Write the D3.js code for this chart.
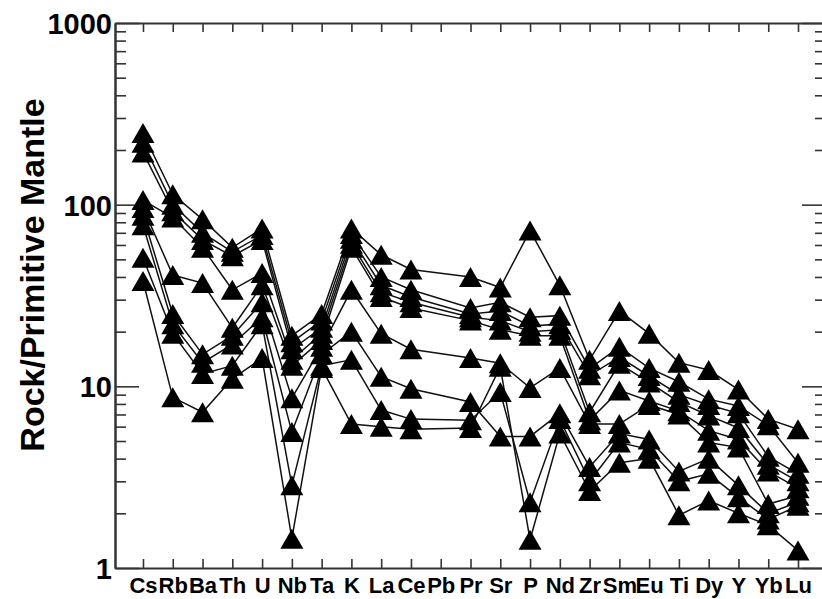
<!DOCTYPE html>
<html>
<head>
<meta charset="utf-8">
<script src="https://cdnjs.cloudflare.com/ajax/libs/d3/7.8.5/d3.min.js"></script>
<style>
  body { margin: 0; background: #fff; }
  svg { display: block; }
</style>
</head>
<body>
<div id="plot"></div>
<script>
// element order of the spider diagram (Pb has no analyses)
var elements = ["Cs","Rb","Ba","Th","U","Nb","Ta","K","La","Ce","Pb","Pr","Sr","P","Nd","Zr","Sm","Eu","Ti","Dy","Y","Yb","Lu"];
var yTicks = [1, 10, 100, 1000];

// rock / primitive mantle values
var sample1 = [248, 114, 83, 58, 74, 19, 25, 74, 53, 44, null, 40, 35, 72, 36, 14, 26, 19.5, 13.5, 12.3, 9.6, 6.6, 5.8];
var sample2 = [219, 100, 70, 55, 68, 17.5, 23, 69, 40, 34, null, 27, 29, 24, 24.5, 12.5, 16.5, 12.6, 10.6, 8.5, 7.8, 6.1, 3.8];
var sample3 = [194, 92, 64, 52, 64, 16, 21, 65, 36, 31, null, 25, 26, 21.5, 22, 11.5, 14.5, 11.4, 9.0, 7.9, 7.1, 4.1, 3.3];
var sample4 = [106, 85, 58, 34, 42, 14, 19.5, 61, 33, 29, null, 24, 23, 20, 20.5, 7.2, 13.3, 10.5, 8.2, 6.9, 5.9, 3.7, 3.0];
var sample5 = [96, 41, 37, 21, 36, 13, 18, 58, 31, 27, null, 23, 20.5, 19, 19, 6.5, 9.5, 8.3, 7.3, 5.7, 5.1, 3.4, 2.75];
var sample6 = [87, 25, 15, 19, 29, 8.6, 16.5, 34, 19.5, 16, null, 14.3, 13.4, 9.8, 12.6, 6.2, 6.2, 7.9, 7.0, 4.9, 4.6, 2.25, 2.5];
var sample7 = [77, 22, 13.5, 17, 24, 5.6, 15, 20, 11.3, 9.7, null, 8.2, 5.3, 5.3, 7.1, 3.6, 5.5, 5.1, 3.4, 4.0, 2.85, 2.0, 2.3];
var sample8 = [51, 19.5, 11.7, 13, 22, 2.85, 13, 14, 7.4, 6.6, null, 6.5, 9.3, 2.3, 6.6, 3.0, 4.9, 4.5, 3.0, 3.3, 2.45, 1.85, 2.2];
var sample9 = [38, 8.7, 7.2, 11, 14.3, 1.45, 12.6, 6.2, 6.0, 5.8, null, 5.9, 12.8, 1.43, 5.5, 2.65, 3.8, 4.0, 1.95, 2.35, 2.0, 1.72, 1.25];
var samples = [sample1, sample2, sample3, sample4, sample5, sample6, sample7, sample8, sample9];

var width = 822, height = 599;
// right frame line sits just past the page edge, as in the scan
var plot = {left: 115, right: 826, top: 23, bottom: 568};

var svg = d3.select("#plot")
  .append("svg")
    .attr("width", width)
    .attr("height", height)
    .style("font-family", "'Liberation Sans', Arial, Helvetica, sans-serif")
    .style("font-weight", "bold");

var x = d3.scalePoint()
    .domain(elements)
    .range([plot.left, plot.right])
    .padding(0.94);

var y = d3.scaleLog()
    .domain([1, 1000])
    .range([plot.bottom, plot.top]);

var minorTicks = [];
[1, 10, 100].forEach(function(dec) {
  for (var k = 2; k <= 9; k++) minorTicks.push(k * dec);
});

var axisColor = "#333";

function styleAxis(g) {
  g.attr("color", axisColor);
  g.select(".domain").attr("stroke-width", 2);
  g.selectAll(".tick line").attr("stroke-width", 1.6);
}

// left axis: minor then major ticks pointing inward
svg.append("g")
    .attr("transform", "translate(" + plot.left + ",0)")
    .call(d3.axisLeft(y).tickValues(minorTicks).tickSize(-11).tickSizeOuter(0).tickFormat(""))
    .call(styleAxis);

var leftMajor = svg.append("g")
    .attr("transform", "translate(" + plot.left + ",0)")
    .call(d3.axisLeft(y).tickValues(yTicks).tickSize(-24).tickSizeOuter(0).tickPadding(3).tickFormat(d3.format("d")))
    .call(styleAxis);
leftMajor.selectAll("text")
    .attr("fill", "#000")
    .style("font-size", "29px")
    .style("font-family", "'Liberation Sans', Arial, sans-serif")
    .style("font-weight", "bold")
    .attr("dy", "0.36em");

// right axis (ticks inward)
svg.append("g")
    .attr("transform", "translate(" + plot.right + ",0)")
    .call(d3.axisRight(y).tickValues(minorTicks).tickSize(-11).tickSizeOuter(0).tickFormat(""))
    .call(styleAxis);
svg.append("g")
    .attr("transform", "translate(" + plot.right + ",0)")
    .call(d3.axisRight(y).tickValues(yTicks).tickSize(-24).tickSizeOuter(0).tickFormat(""))
    .call(styleAxis);

// bottom axis with element names
var bottom = svg.append("g")
    .attr("transform", "translate(0," + plot.bottom + ")")
    .call(d3.axisBottom(x).tickSize(-9).tickSizeOuter(0))
    .call(styleAxis);
bottom.selectAll("text")
    .attr("fill", "#000")
    .attr("y", 25)
    .attr("dy", null)
    .style("font-size", "22px")
    .style("font-family", "'Liberation Sans', Arial, sans-serif")
    .style("font-weight", "bold");

// top axis
svg.append("g")
    .attr("transform", "translate(0," + plot.top + ")")
    .call(d3.axisTop(x).tickSize(-9).tickSizeOuter(0).tickFormat(""))
    .call(styleAxis);

// y title
svg.append("text")
    .attr("transform", "rotate(-90)")
    .attr("x", -275)
    .attr("y", 44)
    .attr("text-anchor", "middle")
    .style("font-size", "34px")
    .text("Rock/Primitive Mantle");

// sample patterns
var line = d3.line()
    .x(function(d) { return x(d.el); })
    .y(function(d) { return y(d.v); });

var pointsOf = function(s) {
  return elements.map(function(el, i) { return {el: el, v: s[i]}; })
    .filter(function(d) { return d.v != null; });
};

svg.append("g")
  .selectAll("path")
  .data(samples)
  .enter()
  .append("path")
    .attr("d", function(s) { return line(pointsOf(s)); })
    .attr("fill", "none")
    .attr("stroke", "#111")
    .attr("stroke-width", 1.5);

var tri = "M0,-10L11.5,10L-11.5,10Z";

svg.append("g")
  .selectAll("g")
  .data(samples)
  .enter()
  .append("g")
  .selectAll("path")
  .data(pointsOf)
  .enter()
  .append("path")
    .attr("d", tri)
    .attr("transform", function(d) { return "translate(" + x(d.el) + "," + y(d.v) + ")"; })
    .attr("fill", "#000");
</script>
</body>
</html>
